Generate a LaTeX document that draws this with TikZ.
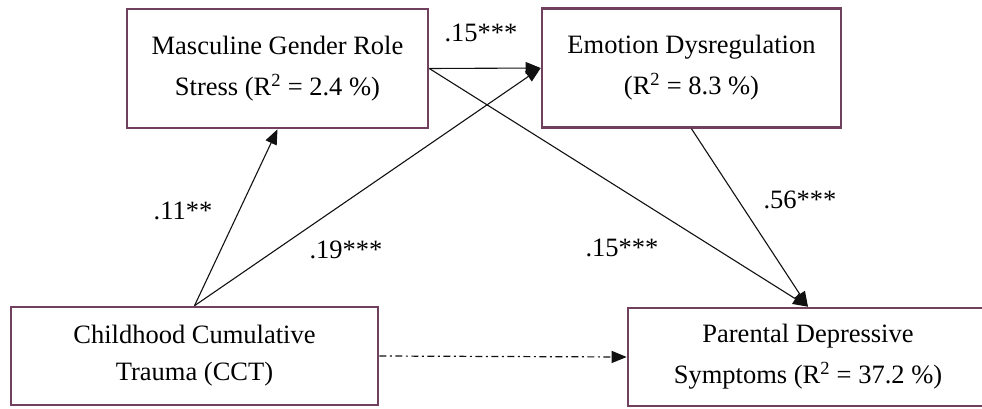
\documentclass[tikz,border=0pt]{standalone}
\usepackage{fontspec}
\setmainfont{Liberation Serif}[Ligatures=TeX]
\usepackage{xcolor}
\usepackage{tikz}
\usetikzlibrary{arrows.meta}
\definecolor{plum}{HTML}{72405F}
\definecolor{ink}{HTML}{111111}

\begin{document}
\begin{tikzpicture}[x=1pt, y=-1pt,
    box/.style={draw=plum, line width=2.6pt, fill=white, align=center,
      font=\rmfamily\fontsize{26.5}{41}\selectfont, inner sep=0pt},
    path/.style={draw=ink, line width=1.1pt, -{Triangle[length=15pt, width=12pt]}},
    coef/.style={font=\rmfamily\fontsize{26.5}{32}\selectfont, inner sep=0pt}]
      \useasboundingbox (0,0) rectangle (982,408);
      % boxes
      \node[box, minimum width=301, minimum height=119] (mgrs)
        at (277.5, 68.5) {Masculine Gender Role\\Stress (R\textsuperscript{2} = 2.4 \%)};
      \node[box, minimum width=299, minimum height=119] (emodys)
        at (691.5, 68) {Emotion Dysregulation\\(R\textsuperscript{2} = 8.3 \%)};
      \node[box, minimum width=367, minimum height=98,
        font=\rmfamily\fontsize{26.5}{37}\selectfont] (cct)
        at (194.5, 356) {Childhood Cumulative\\Trauma (CCT)};
      \node[box, minimum width=360, minimum height=98] (pds)
        at (808, 357) {Parental Depressive\\Symptoms (R\textsuperscript{2} = 37.2 \%)};
      % paths
      \draw[path] (cct.north) -- (mgrs.south);
      \draw[path] (cct.north) -- (emodys.west);
      \draw[path] (mgrs.east) -- (emodys.west);
      \draw[path] (mgrs.east) -- (pds.north);
      \draw[path] (emodys.south) -- (pds.north);
      \draw[path, line width=1.2pt, dash pattern=on 7pt off 3.5pt on 2pt off 3.5pt]
        (cct.east) -- (pds.west);
      % coefficients
      \node[coef] (c1) at (481, 33) {.15***};
      \node[coef] (c2) at (183, 211) {.11**};
      \node[coef] (c3) at (346, 250) {.19***};
      \node[coef] (c4) at (622, 248) {.15***};
      \node[coef] (c5) at (800, 200) {.56***};
    \end{tikzpicture}
\end{document}
